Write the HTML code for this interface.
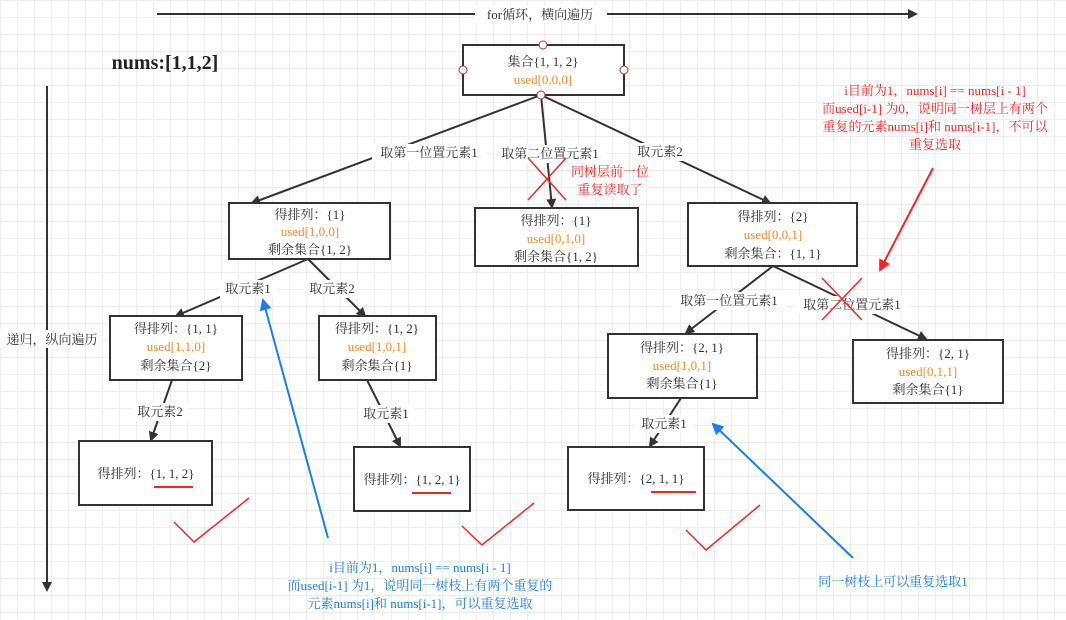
<!DOCTYPE html>
<html><head><meta charset="utf-8"><style>
body{margin:0;width:1066px;height:620px;overflow:hidden;background:#fff;
background-image:linear-gradient(#eee 1px,transparent 1px),linear-gradient(90deg,#eee 1px,transparent 1px);background-size:17px 17px;}
svg{position:absolute;left:0;top:0}
text{font-family:"Liberation Serif","Noto Serif CJK SC",serif;font-size:13px;fill:#333;text-anchor:middle}
.o{fill:#f58a1f}.r{fill:#f22}.b{fill:#1a7ff0}
.bx{fill:#fff;stroke:#333;stroke-width:2}
.ln{stroke:#333;stroke-width:2;fill:none}
.lb{fill:#fff}
</style></head><body>
<svg width="1066" height="620" viewBox="0 0 1066 620">
<defs>
<marker id="a" markerWidth="10" markerHeight="10" refX="8" refY="5" orient="auto" markerUnits="userSpaceOnUse"><path d="M0,0 L10,5 L0,10 z" fill="#333"/></marker>
<marker id="ab" markerWidth="12" markerHeight="12" refX="10" refY="6" orient="auto" markerUnits="userSpaceOnUse"><path d="M0,0 L12,6 L0,12 z" fill="#1a7ff0"/></marker>
<marker id="ar" markerWidth="12" markerHeight="12" refX="10" refY="6" orient="auto" markerUnits="userSpaceOnUse"><path d="M0,0 L12,6 L0,12 z" fill="#f22"/></marker>
</defs>
<!-- axes -->
<line x1="157" y1="14" x2="916" y2="14" class="ln" marker-end="url(#a)"/>
<rect x="475" y="5" width="132" height="18" class="lb"/>
<text x="540" y="19">for循环，横向遍历</text>
<line x1="47" y1="86" x2="47" y2="590" class="ln" marker-end="url(#a)"/>
<rect x="0" y="330" width="102" height="18" class="lb"/>
<text x="52" y="344">递归，纵向遍历</text>
<text x="165" y="69" style="font-size:20px;font-weight:bold;fill:#222">nums:[1,1,2]</text>
<!-- edges -->
<line x1="541" y1="95" x2="252" y2="203" class="ln" marker-end="url(#a)"/>
<line x1="541" y1="95" x2="552" y2="207" class="ln" marker-end="url(#a)"/>
<line x1="541" y1="95" x2="770" y2="203" class="ln" marker-end="url(#a)"/>
<line x1="308" y1="259" x2="176" y2="316" class="ln" marker-end="url(#a)"/>
<line x1="308" y1="259" x2="365" y2="316" class="ln" marker-end="url(#a)"/>
<line x1="172" y1="380" x2="151" y2="440" class="ln" marker-end="url(#a)"/>
<line x1="367" y1="380" x2="400" y2="446" class="ln" marker-end="url(#a)"/>
<line x1="773" y1="266" x2="686" y2="333" class="ln" marker-end="url(#a)"/>
<line x1="773" y1="266" x2="926" y2="339" class="ln" marker-end="url(#a)"/>
<line x1="681" y1="398" x2="650" y2="446" class="ln" marker-end="url(#a)"/>
<!-- edge labels -->
<rect x="372" y="144" width="114" height="18" class="lb"/><text x="429" y="157">取第一位置元素1</text>
<rect x="494" y="145" width="112" height="18" class="lb"/><text x="550" y="158">取第二位置元素1</text>
<rect x="633" y="143" width="56" height="18" class="lb"/><text x="660" y="156">取元素2</text>
<rect x="220" y="280" width="56" height="18" class="lb"/><text x="248" y="293">取元素1</text>
<rect x="304" y="280" width="56" height="18" class="lb"/><text x="332" y="293">取元素2</text>
<rect x="132" y="403" width="56" height="18" class="lb"/><text x="160" y="416">取元素2</text>
<rect x="358" y="405" width="56" height="18" class="lb"/><text x="386" y="418">取元素1</text>
<rect x="672" y="292" width="114" height="18" class="lb"/><text x="729" y="305">取第一位置元素1</text>
<rect x="796" y="296" width="112" height="18" class="lb"/><text x="852" y="309">取第二位置元素1</text>
<rect x="636" y="415" width="56" height="18" class="lb"/><text x="664" y="428">取元素1</text>
<!-- boxes -->
<rect x="463" y="45" width="161" height="50" class="bx"/>
<text x="543" y="66">集合{1, 1, 2}</text><text x="543" y="84" class="o">used[0,0,0]</text>
<g fill="#fff" stroke="#a33" stroke-width="1"><circle cx="543" cy="45" r="4"/><circle cx="463" cy="70" r="4"/><circle cx="624" cy="70" r="4"/><circle cx="541" cy="95" r="4"/></g>
<rect x="229" y="203" width="161" height="56" class="bx"/>
<text x="310" y="219">得排列：{1}</text><text x="310" y="236" class="o">used[1,0,0]</text><text x="310" y="254">剩余集合{1, 2}</text>
<rect x="475" y="208" width="163" height="58" class="bx"/>
<text x="556" y="225">得排列：{1}</text><text x="556" y="243" class="o">used[0,1,0]</text><text x="556" y="261">剩余集合{1, 2}</text>
<rect x="688" y="203" width="169" height="63" class="bx"/>
<text x="773" y="221">得排列：{2}</text><text x="773" y="239" class="o">used[0,0,1]</text><text x="773" y="258">剩余集合：{1, 1}</text>
<rect x="110" y="316" width="132" height="64" class="bx"/>
<text x="176" y="333">得排列：{1, 1}</text><text x="176" y="351" class="o">used[1,1,0]</text><text x="176" y="370">剩余集合{2}</text>
<rect x="319" y="316" width="117" height="64" class="bx"/>
<text x="377" y="333">得排列：{1, 2}</text><text x="377" y="351" class="o">used[1,0,1]</text><text x="377" y="370">剩余集合{1}</text>
<rect x="79" y="441" width="133" height="64" class="bx"/>
<text x="146" y="478">得排列：{1, 1, 2}</text>
<line x1="154" y1="487" x2="193" y2="487" stroke="#f22" stroke-width="2"/>
<rect x="354" y="447" width="116" height="64" class="bx"/>
<text x="412" y="484">得排列：{1, 2, 1}</text>
<line x1="412" y1="493" x2="451" y2="493" stroke="#f22" stroke-width="2"/>
<rect x="608" y="334" width="149" height="64" class="bx"/>
<text x="682" y="352">得排列：{2, 1}</text><text x="682" y="370" class="o">used[1,0,1]</text><text x="682" y="388">剩余集合{1}</text>
<rect x="853" y="340" width="150" height="63" class="bx"/>
<text x="928" y="358">得排列：{2, 1}</text><text x="928" y="376" class="o">used[0,1,1]</text><text x="928" y="394">剩余集合{1}</text>
<rect x="568" y="447" width="136" height="63" class="bx"/>
<text x="636" y="483">得排列：{2, 1, 1}</text>
<line x1="651" y1="492" x2="696" y2="492" stroke="#f22" stroke-width="2"/>
<!-- red marks -->
<g stroke="#f22" stroke-width="1.5" fill="none">
<path d="M528,158 L566,200 M566,158 L528,200"/>
<path d="M822,278 L862,320 M862,278 L822,320"/>
<path d="M174,522 L194,542 L249,498"/>
<path d="M462,526 L482,545 L534,503"/>
<path d="M686,530 L706,550 L760,505"/>
</g>
<text x="610" y="176" class="r" style="text-anchor:middle">同树层前一位</text>
<text x="610" y="194" class="r">重复读取了</text>
<line x1="933" y1="168" x2="880" y2="270" stroke="#f22" stroke-width="2" marker-end="url(#ar)"/>
<text x="935" y="95" class="r">i目前为1，nums[i] == nums[i - 1]</text>
<text x="935" y="113" class="r">而used[i-1] 为0，说明同一树层上有两个</text>
<text x="935" y="131" class="r">重复的元素nums[i]和 nums[i-1]，不可以</text>
<text x="935" y="149" class="r">重复选取</text>
<!-- blue -->
<line x1="328" y1="538" x2="263" y2="300" stroke="#1a7ff0" stroke-width="2" marker-end="url(#ab)"/>
<line x1="853" y1="558" x2="713" y2="424" stroke="#1a7ff0" stroke-width="2" marker-end="url(#ab)"/>
<text x="420" y="572" class="b">i目前为1，nums[i] == nums[i - 1]</text>
<text x="420" y="590" class="b">而used[i-1] 为1，说明同一树枝上有两个重复的</text>
<text x="420" y="608" class="b">元素nums[i]和 nums[i-1]，可以重复选取</text>
<text x="893" y="586" class="b">同一树枝上可以重复选取1</text>
</svg>
</body></html>
